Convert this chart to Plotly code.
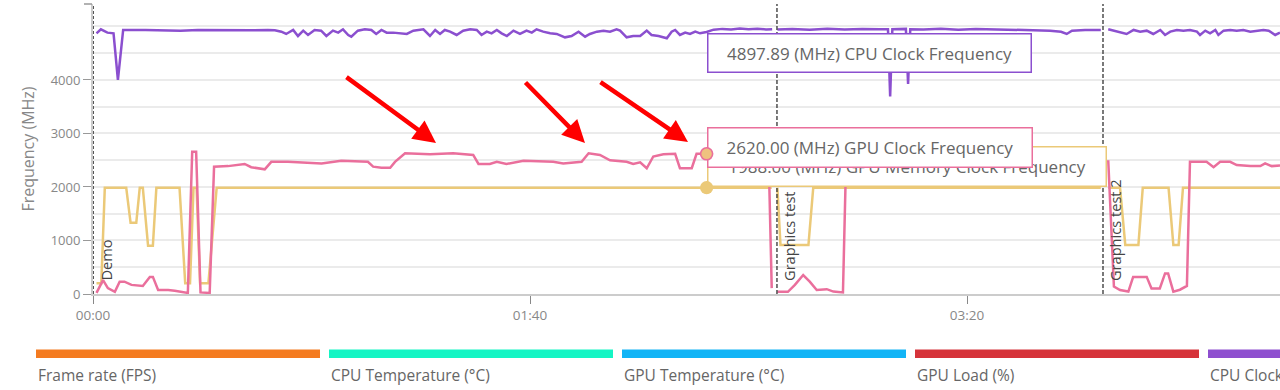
import plotly.graph_objects as go

# ---------------- data ----------------
x_tick_vals = [0, 100, 200]
x_tick_text = ["00:00", "01:40", "03:20"]
y_tick_vals = [0, 1000, 2000, 3000, 4000]
y_minor_vals = [500, 1500, 2500, 3500, 4500, 5000]

cpu_time = [
    0.8, 1.8, 3.3, 4.7, 5.7, 6.9, 12, 16, 20, 24, 28, 32, 36, 40, 41.6,
    43.1, 44.2, 45.8, 46.9, 48.1, 49.2, 50.7, 52.2, 53.4, 54.9, 56.1, 57.2, 58.4, 59.1, 60.6,
    62.2, 63.7, 64.8, 66, 67.2, 68.7, 70.3, 71.8, 73.3, 75.6, 77.1, 78.3, 79.4, 80.5, 81.7,
    83.2, 84.7, 86.3, 87.8, 88.9, 90.1, 91.2, 92.4, 93.5, 94.7, 96.2, 97.7, 99.2, 100.4, 101.5,
    103, 104.6, 106.1, 108, 109.5, 111.1, 112.6, 113.7, 115.3, 116.8, 118.3, 119.8, 120.6, 122.1, 123.6,
    125.2, 126.7, 127.8, 129.4, 131.3, 132.4, 133.2, 134.3, 135.5, 136.6, 137.8, 138.9, 140.4, 142, 144,
    146, 148, 150, 152, 154, 155.4, None,
    156.6, 160, 164, 168, 172, 176, 180, 181.9, 182.4, 182.9, 186, 186.5, 187, 190, 194,
    198, 202, 206, 209, 212, 216, 219, 221.5, 222.8, 224, 227, 230.6, None,
    232.3, 233.5, 235, 236.5, 238.1, 239.6, 241.1, 242.6, 244.2, 245.3, 246.5, 248, 249.5, 251, 252.6,
    253.3, 254.5, 255.6, 256.8, 257.5, 258.7, 260.2, 261.7, 263.2, 264.8, 266.3, 267.8, 269, 270.5, 271.6,
]
cpu_mhz = [
    4872, 4947, 4885, 4872, 4000, 4935, 4935, 4930, 4922, 4935, 4930, 4935, 4930, 4935, 4930,
    4903, 4860, 4935, 4822, 4922, 4841, 4935, 4922, 4822, 4922, 4885, 4947, 4841, 4810, 4922,
    4947, 4935, 4860, 4935, 4885, 4885, 4872, 4860, 4922, 4947, 4822, 4935, 4860, 4935, 4903,
    4841, 4922, 4947, 4935, 4841, 4903, 4872, 4935, 4872, 4822, 4922, 4860, 4922, 4885, 4947,
    4903, 4872, 4860, 4797, 4822, 4903, 4810, 4860, 4903, 4922, 4903, 4947, 4922, 4797, 4822,
    4822, 4922, 4841, 4822, 4779, 4903, 4935, 4841, 4885, 4860, 4903, 4872, 4897.89, 4940, 4955,
    4945, 4960, 4950, 4958, 4945, 4950, None,
    4945, 4955, 4940, 4958, 4945, 4955, 4948, 4950, 3690, 4950, 4955, 3925, 4950, 4945, 4958,
    4940, 4955, 4948, 4935, 4930, 4935, 4922, 4900, 4860, 4922, 4935, 4935, None,
    4947, 4922, 4885, 4860, 4935, 4903, 4922, 4860, 4935, 4841, 4903, 4935, 4922, 4935, 4903,
    4841, 4922, 4872, 4935, 4841, 4922, 4935, 4922, 4935, 4903, 4922, 4935, 4922, 4841, 4885,
]

gpu_time = [
    0.8, 2.3, 3.4, 5, 6.1, 7.2, 8.8, 11.4, 13, 13.7, 14.9, 17.2, 18.7, 21.3, 21.7,
    22.7, 23.6, 24.6, 26.7, 27.7, 30.9, 34.7, 36.2, 39.3, 40.8, 44.6, 52.3, 56.8, 62.9, 64.1,
    66, 68, 69.1, 71.4, 77.1, 82.4, 87, 88.2, 90.8, 92.4, 94.6, 98.5, 105.3, 107.6, 111.8,
    113.4, 116, 118.3, 122.1, 123.6, 125.2, 126.7, 128.2, 130.5, 133.2, 134.3, 137, 138.1, 140.4, 143,
    147, 151, 154.6, 155.3, None,
    156.6, 159, 160.6, 162.5, 164, 165.6, 167.9, 169.4, 171.6, 172.3, 176, 180, 185, 190, 195,
    200, 205, 210, 215, 220, 225, 230.6, None,
    232.3, 233.6, 235, 236.9, 238, 241.1, 242.2, 244.1, 245.3, 246, 247.2, 248.7, 250.3, 251, 254.8,
    256.4, 257.9, 260.2, 261.7, 264.8, 267.1, 268.2, 269.7, 271.6,
]
gpu_mhz = [
    20, 260, 110, 40, 230, 230, 170, 150, 320, 320, 75, 75, 60, 30, 20,
    2660, 2660, 30, 20, 2380, 2390, 2430, 2370, 2330, 2470, 2470, 2440, 2490, 2470, 2380,
    2360, 2360, 2470, 2630, 2610, 2630, 2600, 2430, 2430, 2470, 2430, 2490, 2470, 2440, 2470,
    2630, 2600, 2500, 2470, 2430, 2460, 2350, 2570, 2610, 2620, 2350, 2350, 2620, 2620, 2600,
    2560, 2580, 2560, 110, None,
    40, 40, 170, 355, 230, 75, 90, 45, 30, 2450, 2480, 2500, 2470, 2520, 2490,
    2510, 2480, 2500, 2470, 2490, 2480, 2470, None,
    2500, 140, 75, 45, 320, 320, 105, 105, 385, 385, 45, 80, 150, 2470, 2470,
    2370, 2470, 2470, 2410, 2390, 2390, 2440, 2390, 2400,
]

mem_time = [
    0.8, 1.9, 2.7, 7.6, 8.6, 9.9, 10.7, 11.4, 12.6, 13.7, 14.5, 19.8, 21.1, 22.2, 23,
    23.7, 24.5, 26.4, 28.3, 140.4, 155.3, None,
    156.6, 157.3, 163.7, 164.8, 230.6, None,
    232.3, 235, 236.2, 239.2, 240.2, 246.1, 247.2, 248.4, 249.4, 271.6,
]
mem_mhz = [
    200, 200, 1988, 1988, 1330, 1330, 1988, 1988, 900, 900, 1988, 1988, 200, 200, 1988,
    1988, 200, 200, 1988, 1988, 1988, None,
    1988, 915, 915, 1988, 1988, None,
    1988, 1988, 915, 915, 1988, 1988, 915, 915, 1988, 1988,
]

series_names = ["GPU Memory Clock Frequency", "GPU Clock Frequency", "CPU Clock Frequency"]

hover_time = 140.4
hover_values = [1988.00, 2620.00, 4897.89]

event_times = [0, 156.5, 231.1]
event_labels = ["Demo", "Graphics test 1", "Graphics test 2"]

legend_labels = ["Frame rate (FPS)", "CPU Temperature (°C)", "GPU Temperature (°C)",
                 "GPU Load (%)", "CPU Clock Frequency (MHz)"]

# ---------------- styling ----------------
PURPLE = "#8b4fcf"
PINK = "#ea6f9c"
YELLOW = "#ebc978"
FONT = "Open Sans"
W, H = 1280, 390
PL, PR, PT, PB = 93, 1280, 4, 294


def xp(px):
    return (px - PL) / (PR - PL)


def yp(py):
    return (PB - py) / (PB - PT)


fig = go.Figure()
for t, v, c, n in [(mem_time, mem_mhz, YELLOW, series_names[0]),
                   (gpu_time, gpu_mhz, PINK, series_names[1]),
                   (cpu_time, cpu_mhz, PURPLE, series_names[2])]:
    fig.add_trace(go.Scatter(x=t, y=v, mode="lines", name=n, connectgaps=False,
                             line=dict(color=c, width=2.5), hoverinfo="skip"))

shapes = []
# event lines
for i, et in enumerate(event_times):
    shapes.append(dict(type="line", xref="x", yref="paper", x0=et, x1=et, y0=0, y1=1,
                       line=dict(color="#555" if i == 0 else "#333", width=2 if i == 0 else 1.3,
                                 dash="3px,2px" if i == 0 else "4px,2px"),
                       layer="above"))
# top tick mark on y axis
shapes.append(dict(type="line", xref="paper", yref="paper", x0=xp(84), x1=xp(92), y0=1, y1=1,
                   line=dict(color="#999", width=1.5)))

# legend bars
legend_colors = ["#f47b20", "#14f5c4", "#12b4f6", "#d6333a", "#8e4fcf"]
legend_x = [36, 329, 622, 915, 1208]
annotations = []
for lbl, col, lx in zip(legend_labels, legend_colors, legend_x):
    shapes.append(dict(type="rect", xref="paper", yref="paper", x0=xp(lx), x1=xp(lx + 284),
                       y0=yp(358), y1=yp(349.5), fillcolor=col, line=dict(width=0)))
    annotations.append(dict(xref="paper", yref="paper", x=xp(lx), y=yp(375), xanchor="left",
                            yanchor="middle", text=lbl, showarrow=False,
                            font=dict(family=FONT, size=15.5, color="#666")))

# event labels
for et, lbl in zip(event_times, event_labels):
    annotations.append(dict(xref="x", yref="paper", x=et, y=0, text=lbl, textangle=-90,
                            xanchor="left", yanchor="bottom", xshift=0, yshift=11,
                            showarrow=False, font=dict(family=FONT, size=14.6, color="#444")))

# tooltips (memory, gpu, cpu)
tips = [
    (f"{hover_values[0]:.2f} (MHz) {series_names[0]}", YELLOW, 707, 146, 400, 41),
    (f"{hover_values[1]:.2f} (MHz) {series_names[1]}", PINK, 707, 127, 326, 41),
    (f"{hover_values[2]:.2f} (MHz) {series_names[2]}", PURPLE, 707, 33, 325, 40),
]
BW, PAD = 1.5, 8
for txt, col, bx, by, bw, bh in tips:
    annotations.append(dict(xref="paper", yref="paper", x=xp(bx), y=yp(by), xanchor="left",
                            yanchor="top", text=txt, showarrow=False, align="center",
                            valign="middle", width=bw - 2 * (BW + PAD), height=bh - 2 * (BW + PAD),
                            bgcolor="white", bordercolor=col, borderwidth=BW, borderpad=PAD,
                            font=dict(family=FONT, size=17, color="#666")))

# hover markers
marker_specs = [(hover_values[0], [(YELLOW, 3.3)]),
                (hover_values[1], [(PINK, 3.4), ("#efc27f", 2.6)]),
                (hover_values[2], [(PURPLE, 3.3)])]
for val, layers in marker_specs:
    for col, sc in layers:
        annotations.append(dict(xref="x", yref="y", x=hover_time, y=val, text="",
                                showarrow=True, arrowhead=6, arrowsize=1, arrowwidth=sc,
                                arrowcolor=col, ax=0, ay=0, standoff=0))

# red arrows (head px, tail px)
arrows_px = [((436, 143), (345, 76)), ((585, 143), (524, 81)), ((688, 142), (599, 81))]
for (hx, hy), (tx, ty) in arrows_px:
    annotations.append(dict(xref="paper", yref="paper", x=xp(hx), y=yp(hy), text="",
                            showarrow=True, arrowhead=2, arrowsize=1, arrowwidth=4.5,
                            arrowcolor="#ff0000", ax=tx - hx, ay=ty - hy, standoff=0))

fig.update_layout(
    width=W, height=H,
    margin=dict(l=PL, r=W - PR, t=PT, b=H - PB, pad=0),
    paper_bgcolor="white", plot_bgcolor="white",
    showlegend=False,
    font=dict(family=FONT, color="#888"),
    shapes=shapes, annotations=annotations,
    xaxis=dict(range=[0, 271.6], tickvals=x_tick_vals, ticktext=x_tick_text,
               ticks="outside", ticklen=8, tickcolor="#888", tickwidth=1.2,
               showline=True, linecolor="#ccc", linewidth=1.5, showgrid=False, zeroline=False,
               tickfont=dict(family=FONT, size=13.5, color="#888")),
    yaxis=dict(range=[0, 5420], tickvals=y_tick_vals, ticks="outside", ticklen=8,
               tickcolor="#999", tickwidth=1.2, showline=True, linecolor="#ccc", linewidth=2,
               showgrid=True, gridcolor="#ebebeb", gridwidth=1.5, zeroline=False,
               minor=dict(tickvals=y_minor_vals, showgrid=True, gridcolor="#ebebeb",
                          gridwidth=1.5, ticks=""),
               tickfont=dict(family=FONT, size=13, color="#888"),
               title=dict(text="Frequency (MHz)", standoff=12,
                          font=dict(family=FONT, size=16, color="#888"))),
)

fig.write_html("out.html")
